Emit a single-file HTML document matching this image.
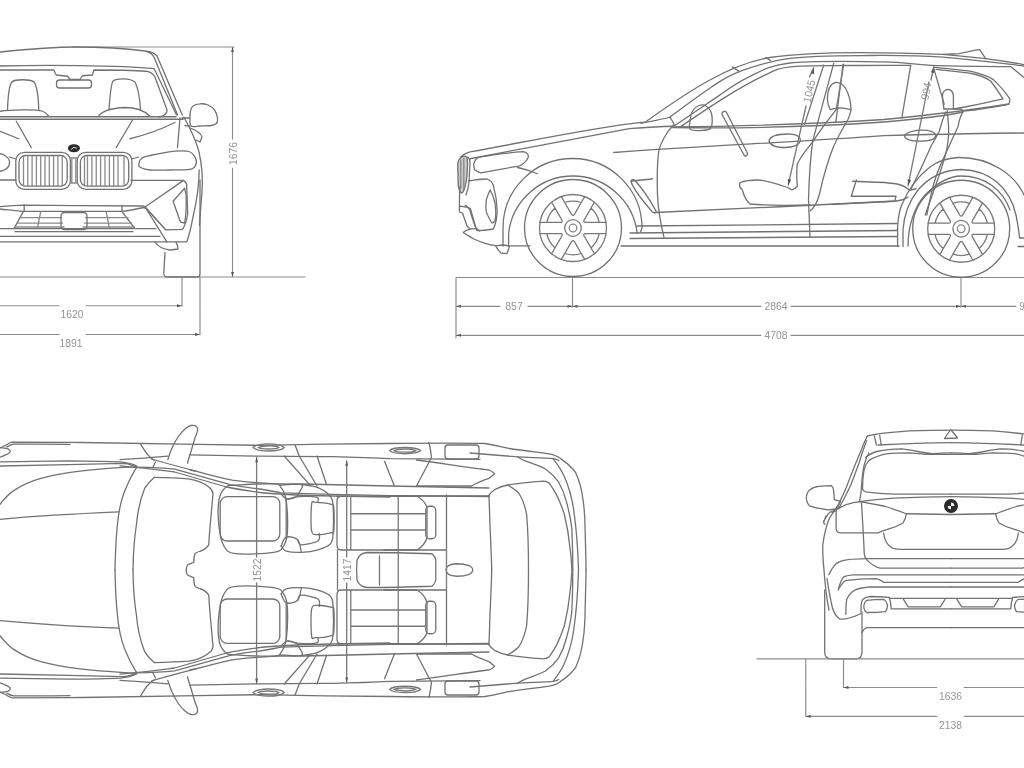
<!DOCTYPE html>
<html><head><meta charset="utf-8"><style>
html,body{margin:0;padding:0;background:#fff;width:1024px;height:768px;overflow:hidden}
svg{display:block;will-change:transform}
path,rect,ellipse,circle,line,polyline{fill:none;stroke:#727272;stroke-width:1.3;stroke-linejoin:round;stroke-linecap:round}
.d{stroke:#8c8c8c;stroke-width:1.15}
.a{fill:#555;stroke:none}
.l{stroke:#8a8a8a}
.m{stroke:#787878}
.g{fill:#b0b0b0}
.k{fill:#2a2a2a;stroke:#2a2a2a}
.t{font-family:"Liberation Sans",sans-serif;font-size:11px;fill:#959595;text-anchor:middle}
</style></head><body>
<svg width="1024" height="768" viewBox="0 0 1024 768">
<g>
<g id="front">
<!-- dimensions -->
<path d="M72,47 H234 M232.5,47 V139 M232.5,168 V277 M0,277 H305 M182,277 V306 M200,277 V335 M0,305.75 H59 M86,305.75 H182 M0,334.5 H59 M86,334.5 H200" class="d"/>
<path d="M232.5,47 l-1.4,5 h2.8 z M232.5,277 l-1.4,-5 h2.8 z M182,305.75 l-5,-1.4 v2.8 z M200,334.5 l-5,-1.4 v2.8 z" class="a"/>
<text x="72" y="318" class="t" textLength="23" lengthAdjust="spacingAndGlyphs">1620</text>
<text x="71" y="347" class="t" textLength="23" lengthAdjust="spacingAndGlyphs">1891</text>
<text transform="translate(236.5,153.5) rotate(-90)" class="t" textLength="23" lengthAdjust="spacingAndGlyphs">1676</text>
<!-- roof / pillar -->
<path d="M0,52 C30,49 60,47 75,47 C100,47 130,49 145,51 C152,52 155,53 157,56 L182.3,115"/>
<path d="M147,51.7 C151,53 153,55 154.2,57.6 L177.6,115"/>
<path d="M0,66 C40,65 120,65 154.2,68.7 L176.5,115"/>
<path d="M0,70 C20,70 40,70 53.75,70 L56.25,75 L67.5,76.25 L70,79.5 L80,79.5 L82.5,75.75 L92.5,75 L93.75,70 C120,70 140,70 148.3,71.6 C152,73 154,75 155,77 L167.1,110.3 C167,114 164,116 159,117"/>
<rect x="56.5" y="80" width="35" height="8" rx="3"/>
<!-- seats -->
<path d="M7.5,110 C8,95 9,85 12,82 C15,79 30,79 34,82 C37,86 38.5,100 38.75,110"/>
<path d="M0,111.25 C10,110 35,109 42,111 C45,112 47,114 48.75,116.25"/>
<path d="M109,110 C110,95 111,84 113,81 C117,78 130,78 135,82 C138,88 140,100 140.5,110"/>
<path d="M98.75,116.25 C101,112 110,108 125,107.5 C136,107.5 144,110 150,116.25"/>
<!-- windshield base -->
<path d="M0,116.75 H176 M0,119.25 H183"/>
<!-- hood -->
<path d="M16.25,121.25 L31.25,147.5 M132.5,120 L116.25,147.5 M0,131.25 L18.75,138.75 M130,138.75 C145,135 160,130 175,122.5 M180,118 L177.5,147.5"/>
<!-- side body right -->
<path d="M183.75,117 C190,128 196,140 199,152 C202,165 203,178 202,192 C201,205 200,215 199.5,225"/>
<!-- mirror -->
<path d="M182,118 H189.5 M185,125.5 L190,126.3"/>
<path d="M190.0,118.0 C189.9,115.5 190.0,113.0 190.5,111.0 C191.0,109.0 191.4,107.2 193.0,106.0 C194.6,104.8 197.5,103.9 200.0,103.8 C202.5,103.6 205.6,104.0 208.0,105.0 C210.4,106.0 212.9,107.8 214.5,110.0 C216.1,112.2 217.2,115.8 217.5,118.0 C217.8,120.2 217.6,122.2 216.5,123.5 C215.4,124.8 213.8,125.1 211.0,125.5 C208.2,125.9 203.3,125.9 200.0,126.0 C196.7,126.1 192.7,127.3 191.0,126.0 C189.3,124.7 190.1,120.5 190.0,118.0 Z"/>
<path d="M190,128 C196,130 200,132 202,137 L200,142 L196,140"/>
<!-- logo -->
<ellipse cx="73.9" cy="148.2" rx="5.4" ry="3.4" class="k"/>
<path d="M71.5,149.2 L74,147.2 L76.5,148.2" style="stroke:#ddd;stroke-width:1"/>
<!-- kidneys -->
<rect x="15.8" y="152.3" width="54.6" height="37" rx="8.5"/>
<rect x="19" y="155.5" width="48.2" height="30.6" rx="6.5"/>
<rect x="77.2" y="152.3" width="54.7" height="37" rx="8.5"/>
<rect x="80.4" y="155.5" width="48.3" height="30.6" rx="6.5"/>
<path d="M70.4,158 H77.2 M70.4,183 H77.2 M71.8,159 V182 M75.8,159 V182" class="l"/>
<path d="M23.5,157 V185 M27.8,156 V186 M32.1,156 V186 M36.4,156 V186 M40.7,156 V186 M45,156 V186 M49.3,156 V186 M53.6,156 V186 M57.9,156 V186 M62.2,157 V185 M84.5,157 V185 M87.5,156 V186 M91.9,156 V186 M96.25,156 V186 M100.6,156 V186 M105,156 V186 M109.4,156 V186 M113.7,156 V186 M118,156 V186 M124,157 V185" class="l"/>
<!-- headlights -->
<path d="M138.8,163.8 C139.0,162.2 140.1,159.4 142.0,158.0 C143.9,156.6 144.5,156.6 150.0,155.5 C155.5,154.4 168.5,151.9 175.0,151.2 C181.5,150.6 185.6,150.4 189.0,151.5 C192.4,152.6 194.4,155.7 195.5,158.0 C196.6,160.3 196.4,163.6 195.5,165.5 C194.6,167.4 194.2,168.6 190.0,169.3 C185.8,170.1 176.7,169.9 170.0,170.0 C163.3,170.1 154.9,170.4 150.0,170.0 C145.1,169.6 142.4,168.5 140.5,167.5 C138.6,166.5 138.5,165.3 138.8,163.8 Z"/>
<path d="M131.5,159 L138.5,157 M16.3,159 L9.3,157"/>
<path d="M0,153.75 C4,154 8,157 9.5,161 C10,166 7,169 3,170.5 L0,171.25"/>
<!-- bumper -->
<path d="M0,180 H16 M131,180.4 H183.5 C186,182 187,184 186.7,186 L187.7,213.75 C187,220 184,227 182.5,229.4 L165.8,229.9 L145,207 L183.5,180.4"/>
<path d="M184.6,188.2 L173.1,201.25 L180.4,222 L184.6,223.1 C186,215 186.5,205 186.1,195 Z"/>
<path d="M0,206.7 C8,206 16,205.4 23.4,205.2 C60,205.4 110,205.8 143.75,206 L145,207"/>
<path d="M0,209 C8,209.8 16,210.8 23.4,211.4 H121.9 C130,210.5 137,209 143.75,207.5"/>
<path d="M24.2,205 V211.4 M122,205.5 V211.4"/>
<path d="M23.4,211.4 L14,228.6 M121.9,211.4 L134.4,228"/>
<path d="M20,217.7 H61.5 M85.5,217.7 H128 M17,223.1 H62.5 M84.5,223.1 H131.5 M15,227 H64 M83,227 H134 M40.6,212.2 L37.5,228 M106.25,212.2 L109.4,228" class="l"/>
<rect x="61" y="212.5" width="26" height="17" rx="3.5"/>
<path d="M0,228.6 H156 M15,231.7 H133 M0,236.4 H160 M0,241.9 H166"/>
<path d="M143.75,207.5 C144.5,208 145.5,208.3 146,208.5 L166.9,241.9 M145,207 L165.8,229.9"/>
<path d="M199.2,170 C199,185 197,200 193,216.9 C191,228 189,236 186.7,241.9 H166.9"/>
<path d="M155,242 C158,247 162,249 170,250 L178,249 C178,246 177,244 176,242"/>
<!-- tire -->
<path d="M165,252.5 L163.75,273.5 C164,276 165,277 167.5,277 H197.5 C199,277 200,276 200,273.75 V180"/>
</g>
<g id="side">
<!-- dimensions -->
<path d="M456,277.5 H1024 M456,277.5 V338 M572.5,277.5 V307 M961,277.5 V307 M456,306.3 H500 M528,306.3 H761 M791,306.3 H1016 M456,335.3 H761 M791,335.3 H1024" class="d"/>
<path d="M456,306.3 l5,-1.4 v2.8 z M572.5,306.3 l-5,-1.4 v2.8 z M572.5,306.3 l5,-1.4 v2.8 z M961,306.3 l-5,-1.4 v2.8 z M961,306.3 l5,-1.4 v2.8 z M456,335.3 l5,-1.4 v2.8 z" class="a"/>
<text x="514" y="310" class="t" textLength="17.5" lengthAdjust="spacingAndGlyphs">857</text>
<text x="776" y="310" class="t" textLength="23" lengthAdjust="spacingAndGlyphs">2864</text>
<text x="776" y="339" class="t" textLength="23" lengthAdjust="spacingAndGlyphs">4708</text>
<text x="1022" y="310" class="t" textLength="5" lengthAdjust="spacingAndGlyphs">9</text>
<!-- roof lines -->
<path d="M460.5,157.2 C464,154 467,152.5 471.4,151.7 C520,143 590,128 641,122.3 L645,122.3 C690,90 730,64 770,57.5 C800,53 860,51 942.8,54.4 C975,57 1005,61 1024,64.6"/>
<path d="M469.9,158.75 C520,149 600,134 629.3,128.7 C645,127.5 660,126.5 672.3,126.25"/>
<path d="M669.0,117.7 C676.0,112.6 699.5,94.9 711.2,87.2 C723.0,79.5 726.3,76.4 739.4,71.6 C752.5,66.8 768.2,61.0 790.0,58.3 C811.8,55.6 844.5,55.7 870.0,55.5 C895.5,55.3 917.1,55.4 942.8,57.1 C968.5,58.9 1010.5,64.5 1024.0,66.0"/>
<path d="M673.8,126.2 C681.0,121.3 705.3,104.7 717.5,96.6 C729.7,88.5 735.1,83.4 747.2,77.8 C759.3,72.2 767.2,65.7 790.0,63.0 C812.8,60.4 860.3,61.5 884.0,61.9 C907.7,62.3 910.8,64.5 932.0,65.3 C953.2,66.1 997.8,66.5 1011.0,66.7 L1024,77.6"/>
<path d="M680.0,127.0 C687.3,122.2 710.0,106.6 723.8,98.1 C737.5,89.6 751.8,81.5 762.8,76.2 C773.8,71.0 775.5,68.7 790.0,66.9 C804.5,65.1 829.9,65.8 850.0,65.5 C870.1,65.2 900.6,65.3 910.7,65.3"/>
<path d="M942.8,54.4 C950,54 955,54 959.2,53.7 C966,52 972,50.5 979.7,49.6 L985.2,57.8"/>
<path d="M732.3,66.9 L739.4,71.6 M766,57.5 L770.6,60.6"/>
<!-- quarter window -->
<path d="M934.6,67.3 C950,69 962,70 971.5,71.4 C980,73.5 988,76 993.4,79.65 C1000,86 1006,93 1009.8,98.8 C1010,101 1009.5,103 1008.4,104.3 C995,107 975,110 963.3,111.1"/>
<path d="M936,69.4 C950,71 962,72 971.5,73.5 C980,75 986,78 990.6,81 C996,88 1000,94 1003,98.8 C990,102 975,105 964.7,107 L954,109"/>
<path d="M910.7,65.3 L901.8,118 M843,64.4 L835.75,122.5"/>
<!-- belt / character lines -->
<path d="M673.75,127 C750,126 830,123 884,119.5 C940,114 990,107 1009,104"/>
<path d="M641,123.3 C650,121.5 660,120 670.3,117 M672,127.5 C750,129 830,125.5 884,122 C930,118 950,115 963,112"/>
<path d="M613.75,152.5 C700,146 800,142 884,135.7 C950,134 1000,133 1024,133"/>
<!-- mirror -->
<path d="M690.5,129.5 C688.3,128.0 689.7,124.1 690.0,121.0 C690.3,117.9 691.0,113.6 692.5,111.0 C694.0,108.4 696.8,106.3 699.0,105.5 C701.2,104.7 704.0,104.9 706.0,106.0 C708.0,107.1 710.0,109.5 711.0,112.0 C712.0,114.5 712.3,118.2 712.2,121.0 C712.1,123.8 712.0,127.0 710.5,128.5 C709.0,130.1 706.3,130.1 703.0,130.3 C699.7,130.5 692.7,131.1 690.5,129.5 Z"/>
<!-- steering wheel -->
<path d="M722,113 C723,111 725.5,110.5 726.5,112.5 L747.5,153.2 C748,155.5 745.5,157 744,155 L722,114.5 Z"/>
<!-- door handles -->
<path d="M769,141 C770,136 778,134 788,134 C795,134 800,136 800.5,140 C800,145 793,147.5 785,147.5 C776,147.5 770,145 769,141 Z"/>
<path d="M904.5,135.7 C906,132 915,130.2 922,130.2 C930,130.2 935,132.5 936,135.7 C935,139 929,141.2 920,141.2 C911,141.2 905,139 904.5,135.7 Z"/>
<!-- doors -->
<path d="M670.3,117.5 L674.2,124.3 C670,129 668,131 666.4,134 C662,141 659.5,146 658.6,152 C657,165 657,180 657.5,195 C658,212 661,225 664,237.5"/>
<path d="M655,212.5 C730,209 820,205 896,201 C900,200.8 905,199 908,197"/>
<path d="M637,226 C750,225 850,224 897,223.5 M630,233 C750,232 850,231 897,230.5 M630,238.5 C750,237.5 850,237 897,236.5"/>
<path d="M621,246 H899 M1018,246.5 H1024"/>
<!-- front fender / bumper -->
<path d="M458.0,162.0 C458.5,159.1 459.8,158.4 461.0,157.5 C462.2,156.6 464.4,156.0 465.5,156.3 C466.6,156.6 467.1,156.4 467.3,159.5 C467.6,162.6 467.4,170.4 467.0,175.0 C466.6,179.6 465.9,184.0 465.0,187.0 C464.1,190.0 462.9,193.0 461.8,193.0 C460.7,193.0 459.2,190.0 458.6,187.0 C458.0,184.0 458.1,179.2 458.0,175.0 C457.9,170.8 457.5,164.9 458.0,162.0 Z" style="fill:#cacaca"/>
<path d="M460.8,160 V188 M463.8,158.5 V189" class="l"/>
<path d="M467.7,157 C469.5,158.5 470.2,160.5 470,163 L469,182 C468.5,187 467.5,191 466,195"/>
<path d="M473.8,163.4 C475,160 477,158 479.25,157.2 C495,154.5 510,152.5 523,151.7 C526,152 527.5,153 528.5,156 C528,160 524,163.5 519.9,165.8 C507,168 494,170.5 480.8,172.8 C477,172 475,170 474.6,169.7 C473.8,167 473.6,165 473.8,163.4 Z"/>
<path d="M517.5,167.5 C525,169 532,171.5 537.5,173.75"/>
<path d="M468.3,181 C474,180 480,179 487,179 C490,180 492,182 493.3,185.3 C496,195 497,203 497.2,210.3 C497,218 495.5,225 493.3,229 C488,230 482,230.6 476.9,230.6 C474,224 472,217 469.9,210.3 C468,207 466,205 465.2,205.6"/>
<path d="M490.2,190 C492.5,194 494,198 495,203 C496,210 496,217 495,221 C493.5,223 492,223 491.75,222.8 C489,218 487,214 486.3,211.9 C485.5,207 486,203 486.3,200 C487.5,196 489,192 490.2,190 Z"/>
<path d="M459.7,187 L459.4,206 C463,206.5 467,207 470.3,208.3 L475.8,227.8 L479.7,231 M459.4,206 L459.4,212 L462.5,213 L467,226 L470,229"/>
<path d="M475.8,228.6 C473,228.8 471,229 469.5,229.4 C466,230.5 464,231.5 463.3,232.5 C466,234.5 470,236.5 473.4,238.75 C477,240.5 481,242 485.2,243.4 C489,244.5 493,245.3 496.9,245.8 C499,245.5 501,245.2 503,245 C505,245.3 507,245.6 508.6,245.8 H530"/>
<path d="M496,246.6 C497.5,249 499,251 500.8,252.8 C503,253.5 505,253.6 507,253.6 C508,251 509,248 509.4,245.8"/>
<!-- wheel arches -->
<path d="M503,246 V228 A69.5,69.5 0 0 1 642,228 L640.5,232"/>
<path d="M508.6,246 V233.5 A64.7,64.7 0 0 1 637.2,233.5"/>
<!-- side vent -->
<path d="M631.25,181.25 C640,180 648,179.5 652.5,178.75"/>
<path d="M631,181.5 C633,188 642,200 652,211.5 C654,213.5 656.5,213.5 656,211 C650,200 641,187 635,180.5 C633.5,179 631,179.5 631,181.5 Z"/>
<!-- rear arches -->
<path d="M897.6,246.5 V228 C898,218 899,211 901.9,204.4 C908,190 918,176 930,166.9 C938,161 948,158 958.1,157.5 C990,157 1015,175 1024,195"/>
<path d="M903,246.5 V230 C904,215 910,200 918,190 C930,176 945,170 961.2,169.5 C990,170 1010,188 1016,215 C1018,225 1019,232 1019.5,238 L1024,238"/>
<path d="M908,246 C908,225 915,206 925,195 C935,185 948,176 961.2,176 C985,176 1003,190 1010,210"/>
<!-- rear seat / lower door -->
<!-- front seat -->
<path d="M833.75,63.2 L812.8,140.6 C810,160 809,180 808.5,200 L810,237"/>
<path d="M823.7,65 L804.6,124.2 M843.8,64.1 L836.5,107.8" class="m"/>
<path d="M830.1,109.6 C828,105 827.4,100 827.4,98.7 C827.5,90 830,84 835.6,82.3 C840,82 843,84 846,89 C849,95 851,103 851,109.6 C847,108.5 843,107.8 839.2,107.8 C835,108 832,109 830.1,109.6 Z"/>
<path d="M851,109.6 C850.5,113 849.5,116 848.3,118.75 C843,128 838,137 833.75,146 C828,160 823,178 819.2,195 C817,203 814,208 810,211"/>
<path d="M837.4,107.8 C830,118 820,130 813.7,140.6 C806,150 800,157 797.3,164.3 C796,172 797,180 797.3,186.1 C796,188 794,189.5 791.9,189.8 L787.5,187.5 C775,183 765,180 757.5,180 C750,180 744,181 740,182.5 C739,186 739.5,188 742,189 C744,196 746,201 750,204 C770,206 790,205.5 810,205"/>
<path d="M813.7,67.75 L809.5,77 M806,106 L788.2,185.2" class="m"/>
<path d="M813.7,67.75 l-3,5.5 l3.5,0.8 z M788.2,185.2 l3,-5.5 l-3.5,-0.8 z" class="a"/>
<text transform="translate(813,92) rotate(-77)" class="t" textLength="23" lengthAdjust="spacingAndGlyphs">1045</text>
<!-- rear seat -->
<path d="M925.3,99.7 L929,82 M933.9,66.7 L931,80" class="m"/>
<path d="M925.3,99.7 L908.1,185.6" class="m"/>
<path d="M933.9,66.7 l-3,5.5 l3.5,0.8 z M908.1,185.6 l3,-5.5 l-3.5,-0.8 z" class="a"/>
<text transform="translate(930,92) rotate(-78)" class="t" textLength="17.5" lengthAdjust="spacingAndGlyphs">994</text>
<path d="M933.9,68.7 L944.2,104.3" class="m"/>
<path d="M944,109 C943,104 942.5,100 942.5,96 C942.5,92 945,89.5 948,89.5 C951,89.5 953,92 953.4,96 V109"/>
<path d="M944,109 H961.25 C962.5,110 963,111 962.8,112.2 C960,117 959,121 958.1,126.25 C953,138 947,150 942.5,160.6 C938,170 934,182 931.6,191.9 C930,200 928,208 926.9,215"/>
<path d="M945.6,112.2 C943,118 941,125 939.4,131 C937,136 934,141 931.6,145 C925,160 918,175 911.25,188.75"/>
<path d="M947.2,110.6 C948,118 948.75,126 948.75,134 C948,142 947,149 945.6,154.4 C940,175 932,195 925.3,215"/>
<path d="M852.5,181.25 C870,182 885,182 896,183.75 C903,185 907,188 909.7,190.3 L916,188.75 M851.25,196.25 L856.4,180 M851.25,196.25 H896 L894.8,201.25 L832,204.4"/>
<circle cx="573" cy="228" r="48.5"/>
<circle cx="573" cy="228" r="33.5" class="m"/>
<circle cx="573" cy="228" r="8.3" class="m"/>
<circle cx="573" cy="228" r="3.8" class="l"/>
<path d="M591.0,208.1 L584.1,220.0 Q583.0,222.2 585.5,222.4 L599.2,222.4 A26.8,26.8 0 0 0 591.0,208.1 M591.0,208.1 L594.4,202.2 M599.2,222.4 L606.0,222.4" class="m"/>
<path d="M564.7,202.5 L571.6,214.4 Q573.0,216.5 574.4,214.4 L581.3,202.5 A26.8,26.8 0 0 0 564.7,202.5 M564.7,202.5 L561.3,196.6 M581.3,202.5 L584.7,196.6" class="m"/>
<path d="M546.8,222.4 L560.5,222.4 Q563.0,222.2 561.9,220.0 L555.0,208.1 A26.8,26.8 0 0 0 546.8,222.4 M546.8,222.4 L540.0,222.4 M555.0,208.1 L551.6,202.2" class="m"/>
<path d="M555.0,247.9 L561.9,236.0 Q563.0,233.8 560.5,233.6 L546.8,233.6 A26.8,26.8 0 0 0 555.0,247.9 M555.0,247.9 L551.6,253.8 M546.8,233.6 L540.0,233.6" class="m"/>
<path d="M581.3,253.5 L574.4,241.6 Q573.0,239.5 571.6,241.6 L564.7,253.5 A26.8,26.8 0 0 0 581.3,253.5 M581.3,253.5 L584.7,259.4 M564.7,253.5 L561.3,259.4" class="m"/>
<path d="M599.2,233.6 L585.5,233.6 Q583.0,233.8 584.1,236.0 L591.0,247.9 A26.8,26.8 0 0 0 599.2,233.6 M599.2,233.6 L606.0,233.6 M591.0,247.9 L594.4,253.8" class="m"/>
<circle cx="961.2" cy="228.75" r="48.5"/>
<circle cx="961.2" cy="228.75" r="33.5" class="m"/>
<circle cx="961.2" cy="228.75" r="8.3" class="m"/>
<circle cx="961.2" cy="228.75" r="3.8" class="l"/>
<path d="M979.2,208.9 L972.3,220.7 Q971.2,223.0 973.7,223.2 L987.4,223.2 A26.8,26.8 0 0 0 979.2,208.9 M979.2,208.9 L982.6,202.9 M987.4,223.2 L994.2,223.2" class="m"/>
<path d="M952.9,203.3 L959.8,215.1 Q961.2,217.2 962.6,215.1 L969.5,203.3 A26.8,26.8 0 0 0 952.9,203.3 M952.9,203.3 L949.5,197.3 M969.5,203.3 L972.9,197.3" class="m"/>
<path d="M935.0,223.2 L948.7,223.2 Q951.2,223.0 950.1,220.7 L943.2,208.9 A26.8,26.8 0 0 0 935.0,223.2 M935.0,223.2 L928.2,223.2 M943.2,208.9 L939.8,202.9" class="m"/>
<path d="M943.2,248.6 L950.1,236.8 Q951.2,234.5 948.7,234.3 L935.0,234.3 A26.8,26.8 0 0 0 943.2,248.6 M943.2,248.6 L939.8,254.6 M935.0,234.3 L928.2,234.4" class="m"/>
<path d="M969.5,254.2 L962.6,242.4 Q961.2,240.2 959.8,242.4 L952.9,254.2 A26.8,26.8 0 0 0 969.5,254.2 M969.5,254.2 L972.9,260.2 M952.9,254.2 L949.5,260.2" class="m"/>
<path d="M987.4,234.4 L973.7,234.3 Q971.2,234.5 972.3,236.8 L979.2,248.6 A26.8,26.8 0 0 0 987.4,234.4 M987.4,234.4 L994.2,234.4 M979.2,248.6 L982.6,254.6" class="m"/>
</g>
<g id="tophalf">
<!-- outer body edge -->
<path d="M0,448 C2,447 4,446 5.5,445.5 C8,443.5 10,442.5 12.3,442.1 C40,442.3 60,442.4 82,442.5 C120,443 200,444.5 260,445.3 C300,444.5 350,443.8 390,443.5 C430,443 460,442.7 485,443.5 C495,445 500,446.5 507.7,448.2 C525,451 540,452.5 549.25,453.9 C555,455 558,456.5 560.6,458.6 C567,463 572,467 575.7,472.7 C580,482 582,491 583.2,501 C584.5,510 585,520 585.1,529.3 C585.5,545 586,560 586,570"/>
<path d="M6.8,446.9 C9,445.5 11,444.5 13.7,444.1 C30,444 50,444 70,444.3"/>
<path d="M0,447.6 C3,447.8 6,448.2 8.2,448.9 C9.5,449.5 10.3,450.5 10.25,451.7 C9.5,453 8,453.8 6.8,454.4 C4,455.5 2,456.5 0,457.1"/>
<path d="M0,461.9 C30,461.3 50,460.9 68.4,460.8 C90,461 110,461.4 120.3,461.9 C128,462.8 133,464 136.7,466"/>
<path d="M0,466 C30,465.3 50,464.9 68.4,464.65 C90,464 110,463.6 123,463.3 C130,464 134,465.5 136.7,467.4"/>
<path d="M0,504.3 C4,499 8,494.5 13.7,490.6 C22,485 31,481 41,478.3 C55,474.5 68,472.5 82,470.8 C100,469 118,467.5 136.7,466.7"/>
<path d="M0,519.3 C20,517.5 38,516.2 54.7,515.2 C80,513.5 100,512.6 118.95,511.8"/>
<!-- windshield -->
<path d="M136.7,467.4 C133,473 130,479 127.2,485.2 C123,494 120.5,503 119,512.5 C117,525 115.5,545 115,570"/>
<path d="M154.2,477.4 C150,481 147,484.5 144.6,488.4 C140,500 137.5,512 136.4,525 C134,540 133.2,555 133,570"/>
<path d="M154.2,477.4 C165,477.6 178,478 188.4,478.8 C197,480 204,483 208.9,487 C211.5,489 212.8,491 213,493.8 C212,505 211,515 210.2,525 C209.5,533 209,540 208.75,545 C206,548.5 203,550.5 200,551.25 C197.5,552 195.5,552.8 195,553.75 C194,556 193.75,559 193.75,562.5 C191,563.5 189,564 187.5,565 C186.5,566.5 186.25,568 186.25,570"/>
<!-- mirror -->
<path d="M167.8,459.6 C168.5,457.7 170.3,451.8 172.0,448.0 C173.7,444.2 175.8,440.2 178.0,437.0 C180.2,433.8 182.8,430.9 185.0,429.0 C187.2,427.1 189.1,425.9 191.0,425.5 C192.9,425.1 195.4,425.6 196.5,426.5 C197.6,427.4 197.8,429.1 197.5,431.0 C197.2,432.9 195.9,435.2 195.0,438.0 C194.1,440.8 193.2,443.8 192.0,448.0 C190.8,452.2 188.2,460.5 187.5,463.0"/>
<path d="M140.5,443.9 C142.5,447 144.5,451 147.3,454.2 C149,456.5 151.5,458.5 154.2,460.3"/>
<path d="M120,459.65 C140,458.5 155,457.3 167.85,456.2 M189.7,454.9 C215,455.3 240,455.8 260,456.2 C290,456.4 310,456.5 332,456.7 C355,457.2 375,457.9 390,458.7 L480,459.3"/>
<!-- A-pillar / roof diagonals -->
<path d="M151.4,459 C165,463 180,467 196.6,471.3 C210,475 222,478 232,480.2 C242,481.5 250,482.3 260,482.9 C268,483.3 272,483.7 277.3,484 L303.3,484 C330,484.6 360,485.3 390,486 C430,486.7 460,487.2 489,488"/>
<path d="M136.4,467.2 C150,467.5 163,468 174.7,469.2 C192,474 210,479 229.4,484.3 C240,486.5 250,488 260,489 C268,490 275,491.8 281.4,492.9 C300,493.5 318,494 332,494.3 C355,494.8 375,495.2 390,495.6 L489,496.5"/>
<path d="M120,465.8 C127,466.4 133,467 140.5,467.85 C152,469 163,470.5 174.7,472 C192,477 209,482 226.6,487 C238,489.5 250,491 260,492.5 C275,494 300,495.5 332,496 C360,496.5 375,496.8 390,497"/>
<path d="M155.5,462 L153,467 M190,470 L196.6,471.3"/>
<!-- B / C pillars -->
<path d="M284.2,456 L310.2,485.4 M295.1,445 L299.2,456 L317,486 M317,456 L326.6,484.7"/>
<path d="M384.5,461.25 L394.5,486.25 M429,442.5 C430,447 431,452 431.5,457.5 L416.5,486"/>
<path d="M416.5,460 C440,463 470,468 488.9,470 C491.5,471 493.5,472.5 494.5,473.7 C492.5,475.5 491,477 488.9,478.4 C480,481.5 475,484 471.5,486 H416.5"/>
<!-- door handles -->
<path d="M253,447.5 C256,444.5 262,443.8 268,443.8 C276,443.8 282,445 284.2,447.5 C282,450 276,451 268,451 C260,451 256,450 253,447.5 Z M258,447.5 C262,446 266,445.8 270,445.8 C275,445.8 278,446.5 279,447.5 C277,448.8 273,449 268,449 C263,449 260,448.5 258,447.5 Z" class="m"/>
<path d="M389.5,450.6 C392,448 398,447.5 405,447.5 C412,447.5 418,448.5 420.75,450.6 C418,453 412,453.75 405,453.75 C398,453.75 392,453 389.5,450.6 Z M394,450.6 C398,449.3 402,449.2 406,449.2 C410,449.2 414,449.8 416,450.6 C413,452 409,452.2 405,452.2 C400,452.2 396,451.8 394,450.6 Z" class="m"/>
<rect x="445" y="445" width="34" height="14" rx="3"/>
<!-- front seat -->
<path d="M218.9,500.4 C219.9,494.0 222.4,490.2 225.2,487.7 C227.9,485.2 227.3,485.8 235.4,485.2 C243.5,484.6 265.9,483.5 273.5,483.9 C281.1,484.3 279.0,484.9 281.1,487.7 C283.2,490.4 285.1,493.0 286.2,500.4 C287.2,507.8 287.8,524.5 287.4,532.1 C287.0,539.7 285.9,542.7 283.6,546.1 C281.3,549.5 281.5,551.1 273.5,552.4 C265.5,553.7 243.7,554.8 235.4,553.7 C227.2,552.7 226.8,550.8 224.0,546.1 C221.2,541.5 219.8,533.4 218.9,525.8 C218.1,518.2 217.9,506.8 218.9,500.4 Z"/>
<rect x="220.2" y="496.6" width="59.6" height="44.4" rx="7"/>
<path d="M279.8,485.2 C283.4,485.1 298.2,483.2 301.4,484.5 C304.6,485.8 299.8,490.8 298.9,492.8 C298.0,494.8 298.2,495.6 296.3,496.6 C294.4,497.7 289.9,499.5 287.4,499.1 C284.9,498.7 282.2,494.9 281.1,494.0"/>
<path d="M301.4,484.5 C304.1,485.0 313.0,485.7 317.9,487.7 C322.8,489.7 328.1,493.4 330.6,496.6 C333.1,499.8 332.7,500.8 333.1,506.7 C333.5,512.6 333.5,526.0 333.1,532.1 C332.7,538.2 333.1,540.6 330.6,543.6 C328.1,546.6 322.8,548.4 317.9,549.9 C313.0,551.4 306.7,552.2 301.4,552.4 C296.1,552.6 289.6,552.2 286.2,551.2 C282.8,550.2 282.0,547.0 281.1,546.1"/>
<path d="M287.4,499.1 C289.3,498.7 294.0,496.9 298.9,496.6 C303.8,496.3 313.4,496.4 316.6,497.2 C319.8,498.0 317.7,500.9 317.9,501.7"/>
<path d="M281.1,546.1 C282.0,544.6 283.4,538.3 286.2,537.2 C288.9,536.1 295.1,537.2 297.6,539.7 C300.1,542.2 300.8,550.3 301.4,552.4"/>
<path d="M297.6,539.7 C298.2,540.6 298.0,544.6 301.4,544.8 C304.8,545.0 314.9,542.9 317.9,541.0 C320.9,539.1 319.0,534.7 319.2,533.4"/>
<path d="M286.2,500 V537"/>
<path d="M311.6,504.2 C312.2,499.4 312.2,502.3 315.4,502.3 C318.6,502.3 327.5,503.2 330.6,504.2 C333.7,505.1 333.3,503.6 333.8,508.0 C334.3,512.5 334.3,526.8 333.8,530.9 C333.3,535.0 333.2,532.2 330.6,532.8 C328.0,533.4 321.1,535.0 317.9,534.7 C314.7,534.4 312.7,536.0 311.6,530.9 C310.6,525.8 311.0,509.0 311.6,504.2 Z"/>
<!-- rear seat -->
<path d="M337,496.25 H417 C422,499 425.5,503 427,507.5 V537.5 C425.5,543 422,547 417,550 H341 C338.5,550 337,548 337,545 V501 C337,498.5 338,496.25 341,496.25"/>
<rect x="425.75" y="506.25" width="10" height="32.5" rx="4"/>
<path d="M350.75,496.5 V550 M398.25,496.5 V550 M351,513.75 H426 M351,530 H426" class="m"/>
<path d="M446.5,495 V550 M384,550 H446.5"/>
<!-- rear end -->
<path d="M470,453 C490,454.5 505,455.8 515.3,456.7 C530,457.5 545,458 553,458.6 C556,459 558,460 558.7,460.5"/>
<path d="M553,458.6 C558,465 561.5,470 564.3,476.5 C569,487 572,498 573.8,510.5 C576.5,530 578,550 578.5,570"/>
<path d="M517.2,456.7 C520,458.5 523,460 526.6,461.4 C533,464 540,466 545.5,469 C551,473 555,477 558.7,482.2 C562,488 564.5,494 566.2,501 C569,511 571,520 571.9,529.3 C572.5,545 572.8,560 572.8,570"/>
<path d="M488.9,495.4 C490.5,493 492.5,491 494.5,489.7 C499,487.5 503,486 507.7,485 C520,483 532,482 543.6,481.2 C545.5,481.3 547.5,482 549.25,483.1 C552,487 554.5,491 556.8,495.4 C559.5,501 562,507 564.3,514.25 C567,525 569,537 570,548.2 C571,555 571.5,562 571.9,570"/>
<path d="M488.9,495.4 C489.3,503 489.6,512 489.8,520 C490.5,540 491.5,555 491.7,570"/>
<path d="M507.7,485 C512,487.5 516,490 519,493.5 C522.5,499 525,506 526.6,514.25 C528,530 528.5,550 528.5,570"/>
<path d="M384,496 H489"/>
</g>
<use href="#tophalf" transform="matrix(1,0,0,-1,0,1140)"/>
<!-- center items -->
<path d="M367,552.5 C390,552.5 410,553 432,553.75 C434,555.5 435.5,557.5 435.75,560 V580 C435.5,582.5 434,584.5 432,586.25 C410,587 390,587.5 367,587.5 C362,587 358.5,584 357,580 C356.5,573 356.5,566 357,560 C358.5,556 362,553 367,552.5 Z"/>
<path d="M379.5,556 V585" class="m"/>
<path d="M446,570 C446,566 450,564 457,563.75 C466,563.75 472.75,566 472.75,570 C472.75,574 466,576.25 457,576.25 C450,576 446,574 446,570 Z"/>
<path d="M337.5,550 V590 M398.25,550 V590 M446.5,550 V590" class="m"/>
<!-- dims -->
<path d="M256.6,457.3 V557 M256.6,583 V683.75 M346.7,460.8 V557 M346.7,583 V682.5" class="m"/>
<path d="M256.6,457.3 l-1.4,5 h2.8 z M256.6,683.75 l-1.4,-5 h2.8 z M346.7,460.8 l-1.4,5 h2.8 z M346.7,682.5 l-1.4,-5 h2.8 z" class="a"/>
<text transform="translate(260.5,570) rotate(-90)" class="t" textLength="23" lengthAdjust="spacingAndGlyphs">1522</text>
<text transform="translate(350.6,570) rotate(-90)" class="t" textLength="23" lengthAdjust="spacingAndGlyphs">1417</text>
<g id="rearhalf">
<path d="M867.2,436.4 C869,435.5 870.5,435 871.9,434.8 C885,433 900,431.5 909.4,430.9 C925,430.4 940,430.2 951,430.2"/>
<path d="M867.3,436 C865,441 863,445 861.9,448.4 C856,462 851,475 846.25,487.5 C843.5,494 841,499 838.4,504.7 C835,510 832,514 829.1,518.75 C826,527 824,535 822.8,545 C822.5,552 823,560 824,570 C825,585 827,600 829,610"/>
<path d="M824.7,590 V652 Q824.7,658.8 831,658.8 H856 Q862,658.8 862,652 V612"/>
<path d="M878.1,445 C900,444 930,443 951,442.65"/>
<path d="M874.2,435.6 L876.5,445 M879.7,435.5 L881.25,445"/>
<path d="M866.6,440.6 C864,448 861,456 858.75,464 C856,471 853.5,478 851,484.4 C847.5,492 844,499 840,506.25 C837,509 834.5,511 832.2,512.5"/>
<path d="M868.9,453 C866,458 864.5,463 863.4,468.75 C862,477 861.5,485 861.1,492.2 L859.5,501.6"/>
<path d="M865.6,457.5 C869,454.5 873,452.5 878.1,451.25 C885,449.5 893,449 901.6,448.9 C908,449.5 914,450.5 920.3,452 C925,453 929,453.5 932.8,453.6 C940,453.2 945,453 951,452.8"/>
<path d="M864,470 C865,466 866.5,463 868.75,460.6 C874,457 880,455 887.5,453.6 C895,452.9 902,452.8 909.4,452.8 C916,453.5 923,454.2 929.7,454.4 H951"/>
<path d="M864,470 C863,476 862.5,483 862.5,488.75 C863,490.5 864,491.5 865.6,491.9 C875,493 885,493.8 893.75,494.2 H951"/>
<path d="M859.5,501.6 C870,500 882,498.8 893.75,498.1 C915,497.3 935,496.8 951,496.6"/>
<path d="M832.2,512.5 C837,509 842,506.5 846.25,504.7 C851,503 855.5,502 860.3,501.6 C868,503 876,504.5 885,506.25 C892,508.5 899,511 906.25,513.75 C906,517 905,520 903,523 C898,526 893,528 887.5,529.4 C884,530.5 881,531.5 878.1,532.8 H840 C837.5,532.8 836.1,531 836.1,528 V511"/>
<path d="M906.25,513.75 C925,514.2 940,514.4 951,514.5"/>
<path d="M861.5,503 C862.5,520 863.5,535 864.2,552.1 C864,556 866,559.5 868.6,561.6 C871.5,564.5 875,566.5 879.9,568.2 H951"/>
<path d="M883.7,533.2 C884,536 884.6,538.5 885.6,540.8 C887.5,544.5 890,547 893.1,548.3 C895.5,549 898,549.3 900.7,549.3 H951"/>
<path d="M828.9,574.8 C831,570 833.5,566 836.4,563.4 C840,561 844,560 847.8,559.7 C854,559 860,558.8 866.7,558.7 H951"/>
<path d="M838.3,589.9 C839.5,584 841.5,579 844,576.7 C847,575.5 850,575 853.4,574.8 H951"/>
<path d="M839.3,588 C841,585 843,582 845.9,580.4 C856,579.3 866,578.8 876.1,578.6 C879,579 881.5,580.5 883.7,582.3 H951"/>
<path d="M845.9,614.4 C845.8,608 846,603 846.8,599.3 C849,594.5 852,591.5 855.3,589.9 C860,588 865,587.3 870.4,587 H951"/>
<path d="M827,578.6 C829,592 831,602 832.7,608.8 C834.5,614 837,617.5 840.2,619.2 C847,619.5 854,617 861,613.5"/>
<path d="M866.7,600.3 C872,599.6 878,599.3 883.7,599.3 C885.5,600.5 887,602.5 887.5,605 C887.5,608 886.8,610 885.6,611.6 C880,612.2 873,612.5 866.7,612.5 C864.5,611 863.8,608.5 863.8,605.9 C864,603.5 865,601.5 866.7,600.3 Z"/>
<path d="M861,612 V608.8 C861,604 861.5,601 862.9,599.3 C865,597.5 867.5,596.7 870.4,596.5 C877,596.6 883,596.9 889.3,597.4 C890.5,601 891,605 891.2,608.8 H951 M889.3,598.4 H951"/>
<path d="M903.5,599.3 L908.2,606.9 H940.3 L945,599.3"/>
<path d="M862,632.4 C863,630 864.5,628.5 866.7,627.7 H951"/>
<path d="M806.25,498.1 C806.5,494.5 807.5,492 809.4,490.3 C812,488 815,486.8 818.75,486.4 C823,485.9 827,485.6 831.25,485.6 C832.7,486.5 833.4,488 833.6,490.3 C834,493.5 834.2,496.5 834.4,499.7 C836.5,500.2 838.5,500.6 840.6,501.25 C839.5,504 838,506.5 836,509 C833.5,509.5 831,509.8 828.1,509.8 C822,509 815,507.8 809.4,505.9 C807.5,504 806.5,501 806.25,498.1 Z"/>
<path d="M823.4,521.6 C825.5,518 827.5,514.5 829.7,512.2 C831.5,511 833.5,510.6 836,510.6 M826,516 L824,521 C823.5,523 824,524.5 825,524"/>
</g>
<use href="#rearhalf" transform="matrix(-1,0,0,1,1902,0)"/>
<circle cx="951" cy="506" r="6.3" class="k"/>
<path d="M951,502.6 A3.3,3.3 0 0 1 954.3,505.9 H951 Z M951,509.2 A3.3,3.3 0 0 1 947.7,505.9 H951 Z" style="fill:#eee;stroke:none"/>
<path d="M944.5,438.5 L950,430.5 Q950.8,429.8 951.6,430.5 L957.5,438 Z"/>
<!-- dims -->
<path d="M756.9,658.9 H1024 M805.7,658.9 V716.5 M843.5,658.9 V687.5 M843.5,687.5 H936.75 M964.25,687.5 H1024 M805.7,716.4 H936.75 M964.25,716.4 H1024" class="d"/>
<path d="M843.5,687.5 l5,-1.4 v2.8 z M805.7,716.4 l5,-1.4 v2.8 z" class="a"/>
<text x="950.5" y="699.5" class="t" textLength="23" lengthAdjust="spacingAndGlyphs">1636</text>
<text x="950.5" y="728.5" class="t" textLength="23" lengthAdjust="spacingAndGlyphs">2138</text>

</g>
</svg>
</body></html>
